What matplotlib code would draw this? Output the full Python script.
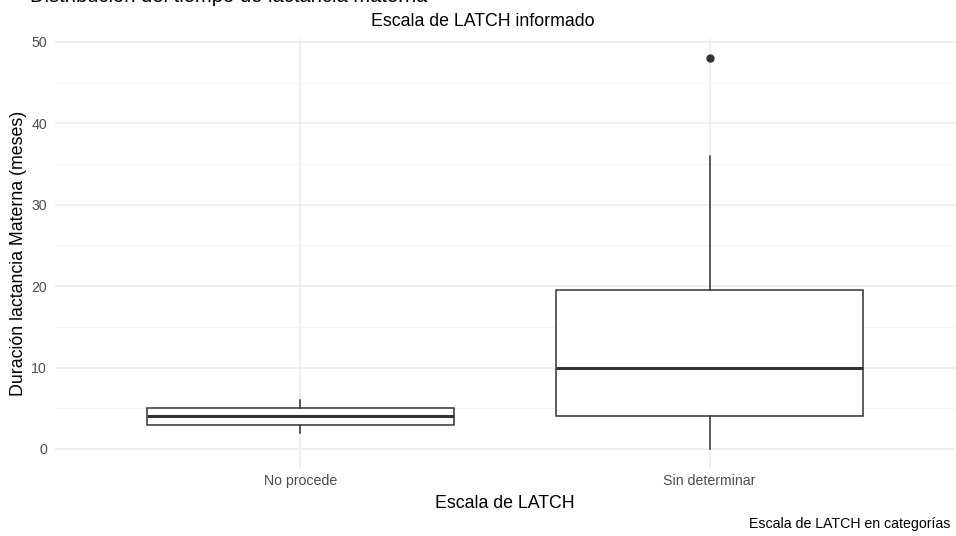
import matplotlib
matplotlib.use("Agg")
import matplotlib.pyplot as plt

plt.rcParams['font.family'] = ['Liberation Sans', 'DejaVu Sans']

# Datos (resumen de cajas)
categorias = ["No procede", "Sin determinar"]
q1 = [3, 4]
mediana = [4, 10]
q3 = [5, 19.5]
bigote_inf = [2, 0]
bigote_sup = [6, 36]
atipicos = [[], [48]]

stats = []
for i, cat in enumerate(categorias):
    stats.append({
        "label": cat, "q1": q1[i], "med": mediana[i], "q3": q3[i],
        "whislo": bigote_inf[i], "whishi": bigote_sup[i], "fliers": atipicos[i],
    })

fig = plt.figure(figsize=(9.56, 5.36), dpi=100)
ax = fig.add_axes([55 / 956, (536 - 468.5) / 536, (955 - 55) / 956, (468.5 - 38.7) / 536])

edge = "#333333"
ax.bxp(stats, positions=[1, 2], widths=0.75, patch_artist=True,
       boxprops=dict(facecolor="white", edgecolor=edge, linewidth=1.1),
       medianprops=dict(color=edge, linewidth=2.2),
       whiskerprops=dict(color=edge, linewidth=1.1),
       capprops=dict(linewidth=0), capwidths=0,
       flierprops=dict(marker="o", markerfacecolor=edge, markeredgecolor=edge, markersize=5))

ax.set_xlim(0.4, 2.6)
ax.set_ylim(-2.4, 50.4)
ax.set_yticks([0, 10, 20, 30, 40, 50])
ax.set_yticks([5, 15, 25, 35, 45], minor=True)
ax.set_xticks([1, 2])
ax.set_xticklabels(categorias)

ax.grid(which="major", color="#EBEBEB", linewidth=1.1)
ax.grid(which="minor", axis="y", color="#F3F3F3", linewidth=0.6)
ax.set_axisbelow(True)
for s in ax.spines.values():
    s.set_visible(False)
ax.tick_params(which="both", length=0, colors="#4D4D4D", labelsize=10.2)
ax.tick_params(axis="y", pad=5.8)
ax.tick_params(axis="x", pad=4)

ax.set_xlabel("Escala de LATCH", fontsize=12.8, labelpad=5)
ax.set_ylabel("Duración lactancia Materna (meses)", fontsize=12.8, labelpad=3)

# titulo principal (recortado en el borde superior, como en el original)
fig.text(30 / 956, 1 - 1.5 / 536, "Distribución del tiempo de lactancia materna", fontsize=14.5,
         ha="left", va="baseline")
fig.text(483 / 956, 1 - 22 / 536, "Escala de LATCH informado", fontsize=12.8,
         ha="center", va="center")
fig.text(950 / 956, 1 - 524 / 536, "Escala de LATCH en categorías", fontsize=10.2,
         ha="right", va="center")

fig.savefig("out.png", dpi=100)
